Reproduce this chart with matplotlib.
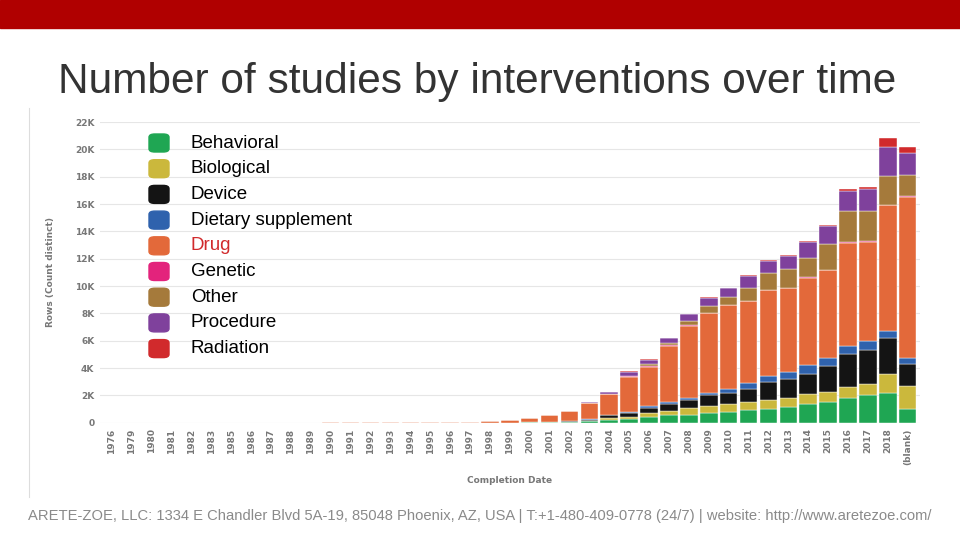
import matplotlib.pyplot as plt
from matplotlib.patches import FancyBboxPatch
import numpy as np

years = ["1976", "1979", "1980", "1981", "1982", "1983", "1985", "1986", "1987", "1988", "1989"] + \
        [str(y) for y in range(1990, 2019)] + ["(blank)"]

# values in thousands, 2002..2018, (blank); earlier years filled below
early = 11
pre = {  # 1990..2001
    "drug": [.08, .08, .08, .08, .08, .08, .08, .08, .12, .2, .35, .5],
    "beh":  [0, 0, 0, 0, 0, 0, 0, 0, 0, .02, .03, .05],
}
late = {
    "beh":   [.05, .1, .2, .25, .45, .55, .6, .7, .8, .95, 1.0, 1.15, 1.35, 1.5, 1.8, 2.0, 2.2, 1.0],
    "bio":   [.03, .05, .15, .2, .3, .35, .45, .55, .6, .55, .65, .7, .75, .75, .85, .85, 1.4, 1.7],
    "dev":   [.05, .08, .2, .25, .35, .5, .6, .75, .8, 1.0, 1.3, 1.35, 1.5, 1.9, 2.4, 2.5, 2.6, 1.6],
    "diet":  [0, .02, .05, .08, .1, .15, .15, .2, .3, .4, .45, .55, .6, .6, .6, .6, .5, .45],
    "drug":  [.7, 1.2, 1.5, 2.6, 2.9, 4.1, 5.3, 5.8, 6.1, 6.0, 6.3, 6.1, 6.4, 6.4, 7.5, 7.3, 9.2, 11.8],
    "gen":   [0, 0, 0, .02, .02, .02, .03, .03, .03, .03, .03, .03, .03, .04, .04, .04, .06, .05],
    "other": [0, 0, .02, .05, .15, .15, .3, .55, .6, .9, 1.2, 1.35, 1.4, 1.9, 2.3, 2.2, 2.1, 1.5],
    "proc":  [.02, .05, .1, .3, .35, .35, .5, .55, .6, .9, .9, 1.0, 1.2, 1.3, 1.5, 1.6, 2.1, 1.6],
    "rad":   [0, 0, 0, .02, .02, .03, .03, .05, .05, .05, .08, .08, .1, .1, .1, .15, .7, .5],
}
keys = ["beh", "bio", "dev", "diet", "drug", "gen", "other", "proc", "rad"]
labels = ["Behavioral", "Biological", "Device", "Dietary supplement", "Drug",
          "Genetic", "Other", "Procedure", "Radiation"]
colors = ["#1fa653", "#cbb83c", "#141414", "#2f62ad", "#e3693a",
          "#e3237c", "#a57a3b", "#7f419c", "#d12a2c"]

series = {}
for k in keys:
    p = pre.get(k, [0] * 12)
    series[k] = np.array([0] * early + p + late[k]) * 1000

fig = plt.figure(figsize=(9.6, 5.4), dpi=100)
fig.patches.append(plt.Rectangle((0, 1 - 28 / 540), 1, 28 / 540, transform=fig.transFigure,
                                 color="#b00000", zorder=0))
fig.text(0.497, 0.848, "Number of studies by interventions over time", ha="center", va="center",
         fontsize=30.5, color="#333333", family="Liberation Sans")
fig.text(0.5, 0.044, "ARETE-ZOE, LLC: 1334 E Chandler Blvd 5A-19, 85048 Phoenix, AZ, USA | T:+1-480-409-0778 (24/7) | website: http://www.aretezoe.com/",
         ha="center", va="center", fontsize=10.6, color="#8a8a8a", family="Liberation Sans")
fig.add_artist(plt.Line2D([0.03, 0.03], [0.08, 0.8], color="#dddddd", lw=0.8))

ax = fig.add_axes([0.104, 0.217, 0.854, 0.557])
x = np.arange(len(years))
bottom = np.zeros(len(years))
for k, c in zip(keys, colors):
    ax.bar(x, series[k], bottom=bottom, color=c, width=0.88, edgecolor="white", linewidth=0.3)
    bottom += series[k]

ax.set_ylim(0, 22000)
ax.set_xlim(-0.6, len(years) - 0.4)
ax.set_yticks(np.arange(0, 22001, 2000))
ax.set_yticklabels(["0"] + [f"{v}K" for v in range(2, 23, 2)])
ax.set_xticks(x)
ax.set_xticklabels(years, rotation=90)
ax.tick_params(length=0, labelsize=6.5, labelcolor="#777777", pad=4)
for t in ax.get_xticklabels() + ax.get_yticklabels():
    t.set_fontweight("bold")
ax.grid(axis="y", color="#e6e6e6", lw=0.8)
ax.set_axisbelow(True)
for s in ax.spines.values():
    s.set_visible(False)
ax.set_ylabel("Rows (Count distinct)", fontsize=6.5, color="#777777", fontweight="bold", labelpad=14)
ax.set_xlabel("Completion Date", fontsize=6.5, color="#777777", fontweight="bold", labelpad=8)

# legend drawn as rounded squares
for i, (lab, c) in enumerate(zip(labels, colors)):
    yc = 1 - (143 + i * 25.7) / 540
    fig.patches.append(FancyBboxPatch((149 / 960, yc - 9 / 540), 20 / 960, 18 / 540,
                                      boxstyle="round,pad=0,rounding_size=0.006",
                                      transform=fig.transFigure, color=c, zorder=5))
    fig.text(191 / 960, yc, lab, va="center", fontsize=13.5, family="Liberation Sans",
             color="#d12a2c" if lab == "Drug" else "black", zorder=6)

fig.savefig("out.png", dpi=100)
